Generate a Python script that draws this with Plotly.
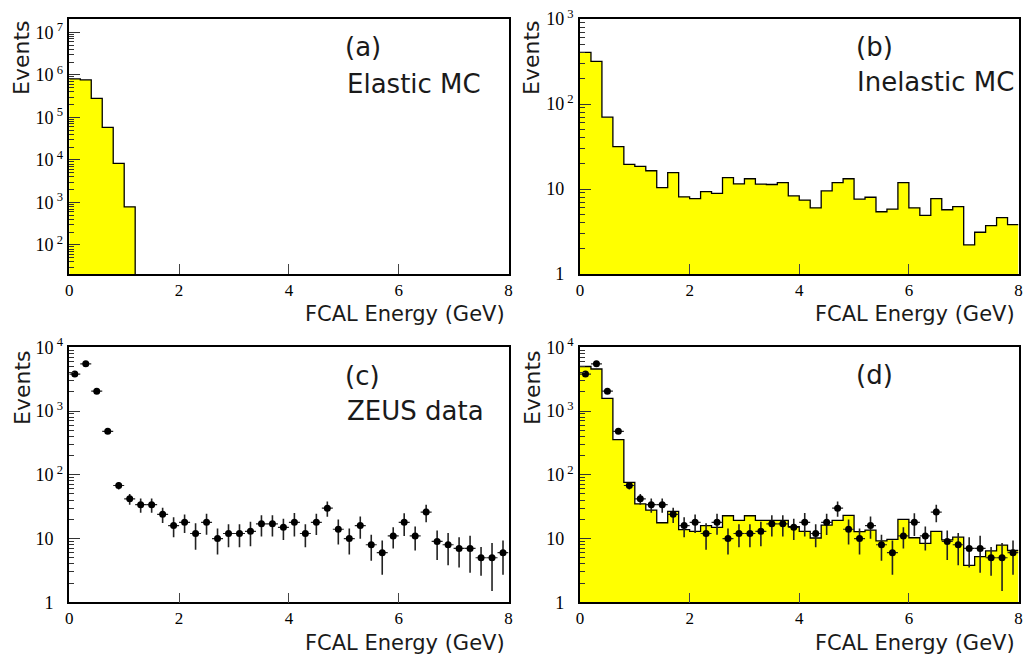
import plotly.graph_objects as go

# ---------------- data ----------------
bin_width = 0.2
# (a) Elastic MC (bins 0.0-1.2 GeV, empty above)
elastic_edges = [0.0, 0.2, 0.4, 0.6, 0.8, 1.0]
elastic_vals = [8.0e5, 7.6e5, 2.8e5, 5.8e4, 8.3e3, 790]

# (b) Inelastic MC (40 bins 0-8 GeV)
inel_edges = [round(i * 0.2, 1) for i in range(40)]
inel_vals = [405, 318, 70, 31.5, 19.5, 18.5, 16.4, 10.4, 15.6, 8.1,
             7.7, 9.3, 8.9, 13.6, 11.5, 13.2, 11.4, 11.3, 11.9, 8.3,
             7.4, 6.0, 9.5, 11.9, 13.2, 7.6, 8.0, 5.4, 5.8, 11.9,
             6.0, 4.9, 7.7, 5.7, 6.2, 2.2, 3.1, 3.7, 4.6, 3.8]

# (d) MC sum (40 bins)
mc_vals = [5000, 4570, 1585, 355, 76, 35, 28, 17.7, 26.7, 13.8,
           13.0, 15.9, 15.0, 22.8, 19.3, 22.8, 19.3, 19.3, 19.3, 15.4,
           13.0, 10.2, 16.2, 19.3, 23.1, 12.8, 13.6, 9.2, 9.7, 20.0,
           10.3, 8.4, 13.0, 9.5, 10.5, 3.8, 5.2, 6.4, 7.9, 6.5]

# (c) ZEUS data at bin centres
data_x = [round(0.1 + i * 0.2, 1) for i in range(40)]
data_y = [3800, 5500, 2050, 480, 68, 42, 34, 34, 24, 16,
          18, 12, 18, 10, 12, 12, 13, 17, 17, 15,
          18, 12, 18, 30, 14, 10, 16, 8, 6, 11,
          18, 11, 26, 9, 8, 7, 7, 5, 5, 6]
data_err = [150, 190, 120, 45, 9, 8, 8.5, 8.5, 6.5, 5.5,
            5.8, 5.3, 6.5, 4.4, 4.7, 4.7, 5.4, 6.2, 6.2, 5.5,
            7.2, 4.7, 6.6, 8.0, 5.9, 4.4, 6.1, 3.5, 3.3, 4.0,
            7.0, 4.5, 8.0, 4.4, 4.2, 3.5, 4.1, 2.4, 3.5, 3.3]

x_ticks = [0, 2, 4, 6, 8]
A_RANGE = [1.318, 7.313]
B_RANGE = [0, 3]
C_RANGE = [0, 4]
X_RANGE = [0, 8]

YELLOW = "#ffff00"
SERIF = "Liberation Serif, Times New Roman, serif"
SANS = "DejaVu Sans"

W, H = 1025, 661


def px(x):
    return x / W


def py(y):
    return 1 - y / H


def log_ticks(lo_exp, hi_exp):
    vals, text = [], []
    for k in range(lo_exp, hi_exp + 1):
        vals.append(10 ** k)
        if k == 0:
            text.append("1<sup>\u00a0\u2007</sup>")
        elif k == 1:
            text.append("10<sup>\u00a0\u2007</sup>")
        else:
            text.append("10<sup>\u00a0%d</sup>" % k)
    return vals, text


def minor_vals(lo_exp, hi_exp):
    out = []
    for k in range(lo_exp, hi_exp + 1):
        for m in range(2, 10):
            out.append(m * 10 ** k)
    return out


fig = go.Figure()


def hist_trace(edges, vals, xa, ya, drop_to=None):
    xs = list(edges) + [round(edges[-1] + bin_width, 1)]
    ys = list(vals) + [vals[-1]]
    if drop_to is not None:
        xs.append(xs[-1])
        ys.append(drop_to)
    return go.Scatter(x=xs, y=ys, mode="lines", line=dict(shape="hv", color="black", width=1.3),
                      fill="tozeroy", fillcolor=YELLOW, xaxis=xa, yaxis=ya,
                      showlegend=False, hoverinfo="skip")


def data_trace(xa, ya):
    return go.Scatter(x=data_x, y=data_y, mode="markers",
                      marker=dict(symbol="circle", size=7, color="black"),
                      error_y=dict(type="data", array=data_err, color="#222", thickness=1.6, width=0),
                      error_x=dict(type="constant", value=bin_width / 2, color="#222", thickness=1.2, width=0),
                      xaxis=xa, yaxis=ya, showlegend=False)


fig.add_trace(hist_trace(elastic_edges, elastic_vals, "x", "y", drop_to=10 ** A_RANGE[0]))
fig.add_trace(hist_trace(inel_edges, inel_vals, "x2", "y2"))
fig.add_trace(data_trace("x3", "y3"))
fig.add_trace(hist_trace(inel_edges, mc_vals, "x4", "y4"))
fig.add_trace(data_trace("x4", "y4"))

xdom_l = [px(69.3), px(508.5)]
xdom_r = [px(580), px(1018.5)]
ydom_t = [py(274), py(19)]
ydom_b = [py(602.3), py(347.3)]


def xaxis(dom, anchor):
    return dict(domain=dom, anchor=anchor, range=X_RANGE, tickmode="array", tickvals=x_ticks,
                ticktext=[str(v) for v in x_ticks], ticks="inside", ticklen=10, tickwidth=1,
                tickcolor="#444", showline=True, mirror=True, linecolor="black", linewidth=1.5,
                showgrid=False, zeroline=False, tickfont=dict(family=SERIF, size=17, color="black"),
                ticklabelstandoff=0, automargin=False)


def yaxis(dom, anchor, rng, lo_exp, hi_exp):
    tv, tt = log_ticks(lo_exp, hi_exp)
    return dict(domain=dom, anchor=anchor, type="log", range=rng, tickmode="array", tickvals=tv,
                ticktext=tt, ticks="inside", ticklen=11, tickwidth=1, tickcolor="#333",
                minor=dict(tickmode="array", tickvals=minor_vals(lo_exp - 1, hi_exp), ticks="inside",
                           ticklen=5, tickwidth=1, tickcolor="#333", showgrid=False),
                showline=True, mirror=True, linecolor="black", linewidth=1.5, showgrid=False,
                zeroline=False, tickfont=dict(family=SERIF, size=18, color="black"),
                ticklabelstandoff=1, automargin=False)


fig.update_layout(
    width=W, height=H, autosize=False,
    margin=dict(l=0, r=0, t=0, b=0, autoexpand=False),
    paper_bgcolor="white", plot_bgcolor="white",
    xaxis=xaxis(xdom_l, "y"), yaxis=yaxis(ydom_t, "x", A_RANGE, 2, 7),
    xaxis2=xaxis(xdom_r, "y2"), yaxis2=yaxis(ydom_t, "x2", B_RANGE, 0, 3),
    xaxis3=xaxis(xdom_l, "y3"), yaxis3=yaxis(ydom_b, "x3", C_RANGE, 0, 4),
    xaxis4=xaxis(xdom_r, "y4"), yaxis4=yaxis(ydom_b, "x4", C_RANGE, 0, 4),
)

ann = []
label_font = dict(family=SANS, size=26, color="#1a1a1a")
title_font = dict(family=SANS, size=21, color="#1a1a1a")
events_font = dict(family=SANS, size=22, color="#1a1a1a")

panel_text = [
    ("(a)", 343, 47, "Elastic MC", 345, 84),
    ("(b)", 854, 47, "Inelastic MC", 855, 82),
    ("(c)", 343, 376, "ZEUS data", 345, 411),
    ("(d)", 854, 375, None, None, None),
]
for tag, tx, ty, name, nx, ny in panel_text:
    ann.append(dict(text=tag, x=px(tx), y=py(ty), xref="paper", yref="paper", xanchor="left",
                    yanchor="middle", showarrow=False, font=label_font))
    if name:
        ann.append(dict(text=name, x=px(nx), y=py(ny), xref="paper", yref="paper", xanchor="left",
                        yanchor="middle", showarrow=False, font=label_font))

for ex, ey in [(22, 58), (532, 58), (22, 388), (532, 388)]:
    ann.append(dict(text="Events", x=px(ex), y=py(ey), xref="paper", yref="paper", xanchor="center",
                    yanchor="middle", textangle=-90, showarrow=False, font=events_font))

for fx, fy in [(507, 314), (1017, 314), (507, 643), (1017, 643)]:
    ann.append(dict(text="FCAL Energy (GeV)", x=px(fx), y=py(fy), xref="paper", yref="paper",
                    xanchor="right", yanchor="middle", showarrow=False, font=title_font))

fig.update_layout(annotations=ann)
fig.write_html("out.html")
